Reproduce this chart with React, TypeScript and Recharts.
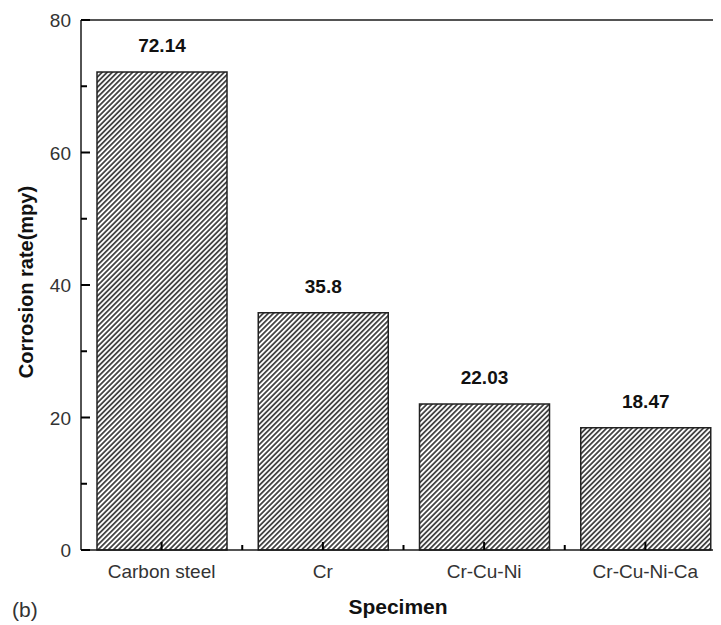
import { BarChart, Bar, XAxis, YAxis, LabelList, ReferenceLine, Label } from "recharts";

const specimens = ["Carbon steel", "Cr", "Cr-Cu-Ni", "Cr-Cu-Ni-Ca"];
const corrosionRates = [72.14, 35.8, 22.03, 18.47];
const yTicks = [0, 10, 20, 30, 40, 50, 60, 70, 80];
const yMajor = [0, 20, 40, 60, 80];

const data = specimens.map((name, i) => ({ name, rate: corrosionRates[i] }));

const FONT = "'Liberation Sans', Arial, Helvetica, sans-serif";
const INK = "#1a1a1a";
const CHART_W = 740;
const PLOT_LEFT = 81;
const PLOT_RIGHT_MARGIN = 14;
const BAND = (CHART_W - PLOT_LEFT - PLOT_RIGHT_MARGIN) / specimens.length;

// y ticks point into the plot; only the even ones get a number
function YTick(props: any) {
  const { x, y, payload } = props;
  const major = yMajor.includes(payload.value);
  return (
    <g>
      <rect x={x} y={y - 1} width={major ? 9 : 6} height={2} fill="#000" />
      {major && (
        <text x={x - 10} y={y + 7} textAnchor="end" fontSize={19} fill="#333" fontFamily={FONT}>
          {payload.value}
        </text>
      )}
    </g>
  );
}

// category tick inward at the centre, short minor tick at the band edge
function XTick(props: any) {
  const { x, y, payload, index } = props;
  return (
    <g>
      <rect x={x - 1} y={y - 8} width={2} height={8} fill="#000" />
      {index > 0 && <rect x={x - BAND / 2 - 1} y={y - 5} width={2} height={5} fill="#000" />}
      <text x={x} y={y + 28} textAnchor="middle" fontSize={19} fill="#333" fontFamily={FONT}>
        {payload.value}
      </text>
    </g>
  );
}

export default function App() {
  return (
    <div style={{ marginLeft: -8, marginTop: -8, width: 721, height: 625, overflow: "hidden", background: "#fff" }}>
      <BarChart
        width={CHART_W}
        height={625}
        data={data}
        margin={{ top: 20, right: PLOT_RIGHT_MARGIN, bottom: 0, left: 0 }}
      >
        <defs>
          <pattern id="hatch" width="3.6" height="10" patternUnits="userSpaceOnUse" patternTransform="rotate(45)">
            <rect width="3.6" height="10" fill="#fff" />
            <line x1="0.9" y1="0" x2="0.9" y2="10" stroke="#111" strokeWidth="1.4" />
          </pattern>
        </defs>
        <XAxis
          dataKey="name"
          height={75}
          tickLine={false}
          tickSize={0}
          tickMargin={0}
          axisLine={{ stroke: INK, strokeWidth: 1.5 }}
          tick={<XTick />}
          interval={0}
        >
          <Label
            content={() => (
              <g>
                <text x={12} y={617} fontSize={21} fill="#333" fontFamily={FONT}>
                  (b)
                </text>
                <text x={398} y={614} textAnchor="middle" fontSize={21} fontWeight="bold" fill="#111" fontFamily={FONT}>
                  Specimen
                </text>
              </g>
            )}
          />
        </XAxis>
        <YAxis
          width={PLOT_LEFT}
          domain={[0, 80]}
          ticks={yTicks}
          interval={0}
          tickLine={false}
          tickSize={0}
          tickMargin={0}
          axisLine={{ stroke: INK, strokeWidth: 1.5 }}
          tick={<YTick />}
        >
          <Label
            content={() => (
              <text
                x={33}
                y={282}
                transform="rotate(-90 33 282)"
                textAnchor="middle"
                fontSize={20}
                fontWeight="bold"
                fill="#111"
                fontFamily={FONT}
              >
                Corrosion rate(mpy)
              </text>
            )}
          />
        </YAxis>
        <ReferenceLine y={80} stroke={INK} strokeWidth={1.5} />
        <Bar dataKey="rate" barSize={130} fill="url(#hatch)" stroke="#222" strokeWidth={1.5} isAnimationActive={false}>
          <LabelList
            dataKey="rate"
            position="top"
            offset={20}
            fontSize={19}
            fontWeight="bold"
            fill="#111"
            fontFamily={FONT}
          />
        </Bar>
      </BarChart>
    </div>
  );
}
